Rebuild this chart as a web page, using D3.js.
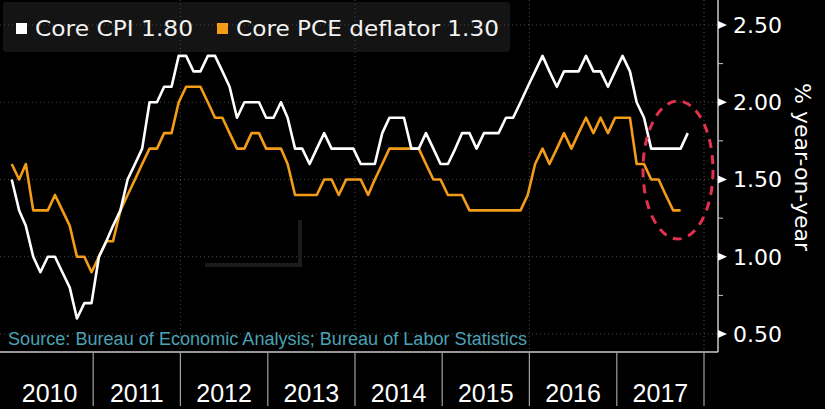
<!DOCTYPE html>
<html>
<head>
<meta charset="utf-8">
<script src="https://cdn.jsdelivr.net/npm/d3@7"></script>
<style>
  html, body { margin: 0; padding: 0; background: #000; }
  svg { display: block; }
</style>
</head>
<body>
<svg id="chart"></svg>
<script>
const width = 825
const height = 409

// monthly y/y %, starting Jan 2010
const coreCPI = [
  1.5, 1.3, 1.2, 1.0, 0.9, 1.0, 1.0, 0.9, 0.8, 0.6, 0.7, 0.7,
  1.0, 1.1, 1.2, 1.3, 1.5, 1.6, 1.7, 2.0, 2.0, 2.1, 2.1, 2.3,
  2.3, 2.2, 2.2, 2.3, 2.3, 2.2, 2.1, 1.9, 2.0, 2.0, 2.0, 1.9,
  1.9, 2.0, 1.9, 1.7, 1.7, 1.6, 1.7, 1.8, 1.7, 1.7, 1.7, 1.7,
  1.6, 1.6, 1.6, 1.8, 1.9, 1.9, 1.9, 1.7, 1.7, 1.8, 1.7, 1.6,
  1.6, 1.7, 1.8, 1.8, 1.7, 1.8, 1.8, 1.8, 1.9, 1.9, 2.0, 2.1,
  2.2, 2.3, 2.2, 2.1, 2.2, 2.2, 2.2, 2.3, 2.2, 2.2, 2.1, 2.2,
  2.3, 2.2, 2.0, 1.9, 1.7, 1.7, 1.7, 1.7, 1.7, 1.8
]
const corePCE = [
  1.6, 1.5, 1.6, 1.3, 1.3, 1.3, 1.4, 1.3, 1.2, 1.0, 1.0, 0.9,
  1.0, 1.1, 1.1, 1.3, 1.4, 1.5, 1.6, 1.7, 1.7, 1.8, 1.8, 2.0,
  2.1, 2.1, 2.1, 2.0, 1.9, 1.9, 1.8, 1.7, 1.7, 1.8, 1.8, 1.7,
  1.7, 1.7, 1.6, 1.4, 1.4, 1.4, 1.4, 1.5, 1.5, 1.4, 1.5, 1.5,
  1.5, 1.4, 1.5, 1.6, 1.7, 1.7, 1.7, 1.7, 1.7, 1.6, 1.5, 1.5,
  1.4, 1.4, 1.4, 1.3, 1.3, 1.3, 1.3, 1.3, 1.3, 1.3, 1.3, 1.4,
  1.6, 1.7, 1.6, 1.7, 1.8, 1.7, 1.8, 1.9, 1.8, 1.9, 1.8, 1.9,
  1.9, 1.9, 1.6, 1.6, 1.5, 1.5, 1.4, 1.3, 1.3
]
const years = [2010, 2011, 2012, 2013, 2014, 2015, 2016, 2017]
const yTicks = [0.5, 1.0, 1.5, 2.0, 2.5]
const yMinorTicks = [0.75, 1.25, 1.75, 2.25]
const gridYears = [2012, 2014, 2016, 2018]
const legendItems = [
  { label: "Core CPI 1.80", color: "#ffffff" },
  { label: "Core PCE deflator 1.30", color: "#f39c17" }
]

const plotRight = 718
const plotBottom = 352

const svg = d3.select("#chart")
  .attr("width", width)
  .attr("height", height)

svg.append("rect")
  .attr("width", width)
  .attr("height", height)
  .attr("fill", "#000")

const x = d3.scaleTime()
  .domain([new Date(2010, 0, 1), new Date(2018, 0, 1)])
  .range([6, 704])

const y = d3.scaleLinear()
  .domain([0.5, 2.5])
  .range([334, 25])

const monthDate = i => new Date(2010, i, 25)

// legend box
svg.append("rect")
  .attr("x", 3).attr("y", 2)
  .attr("width", 507).attr("height", 50)
  .attr("rx", 3)
  .attr("fill", "#141414")

// gridlines
svg.append("g")
  .selectAll("line")
  .data(yTicks)
  .join("line")
  .attr("x1", 0).attr("x2", plotRight)
  .attr("y1", d => y(d)).attr("y2", d => y(d))
  .attr("stroke", "#4a4a4a")
  .attr("stroke-width", 1)
  .attr("stroke-dasharray", "1,3")

svg.append("g")
  .selectAll("line")
  .data(gridYears)
  .join("line")
  .attr("x1", d => x(new Date(d, 0, 1))).attr("x2", d => x(new Date(d, 0, 1)))
  .attr("y1", 0).attr("y2", plotBottom)
  .attr("stroke", "#4a4a4a")
  .attr("stroke-width", 1)
  .attr("stroke-dasharray", "1,3")

// faint artifact in the plot
svg.append("path")
  .attr("d", "M205,265 L300,265 L300,220")
  .attr("fill", "none")
  .attr("stroke", "#1b1b1b")
  .attr("stroke-width", 4)

// lines
const line = d3.line()
  .x((d, i) => x(monthDate(i)))
  .y(d => y(d))

svg.append("path")
  .datum(corePCE)
  .attr("d", line)
  .attr("fill", "none")
  .attr("stroke", legendItems[1].color)
  .attr("stroke-width", 2.6)
  .attr("stroke-linejoin", "round")

svg.append("path")
  .datum(coreCPI)
  .attr("d", line)
  .attr("fill", "none")
  .attr("stroke", legendItems[0].color)
  .attr("stroke-width", 2.6)
  .attr("stroke-linejoin", "round")

// highlight ellipse
svg.append("ellipse")
  .attr("cx", 678).attr("cy", 170)
  .attr("rx", 35).attr("ry", 69)
  .attr("fill", "none")
  .attr("stroke", "#e3304f")
  .attr("stroke-width", 3)
  .attr("stroke-dasharray", "9,7")

// source note
svg.append("text")
  .attr("x", 8).attr("y", 345)
  .attr("font-family", "Liberation Sans, Arial, sans-serif")
  .attr("font-size", 18)
  .attr("textLength", 519)
  .attr("lengthAdjust", "spacingAndGlyphs")
  .attr("fill", "#4aa2b4")
  .text("Source: Bureau of Economic Analysis; Bureau of Labor Statistics")

// right axis
svg.append("line")
  .attr("x1", plotRight).attr("x2", plotRight)
  .attr("y1", 0).attr("y2", plotBottom)
  .attr("stroke", "#c8c8c8").attr("stroke-width", 1.5)

svg.append("line")
  .attr("x1", 0).attr("x2", plotRight)
  .attr("y1", plotBottom).attr("y2", plotBottom)
  .attr("stroke", "#c8c8c8").attr("stroke-width", 1.5)

const yAxis = svg.append("g")
yAxis.selectAll("path")
  .data(yTicks)
  .join("path")
  .attr("d", d => `M${plotRight},${y(d) - 4} L${plotRight + 9},${y(d)} L${plotRight},${y(d) + 4} Z`)
  .attr("fill", "#fff")

yAxis.selectAll("line")
  .data(yMinorTicks)
  .join("line")
  .attr("x1", plotRight).attr("x2", plotRight + 5)
  .attr("y1", d => y(d)).attr("y2", d => y(d))
  .attr("stroke", "#c8c8c8")

yAxis.selectAll("text")
  .data(yTicks)
  .join("text")
  .attr("x", 733)
  .attr("y", d => y(d))
  .attr("dy", "0.36em")
  .attr("font-family", "DejaVu Sans, sans-serif")
  .attr("font-size", 22)
  .attr("fill", "#fff")
  .text(d => d.toFixed(2))

svg.append("text")
  .attr("transform", "translate(795,167) rotate(90)")
  .attr("text-anchor", "middle")
  .attr("font-family", "DejaVu Sans, sans-serif")
  .attr("font-size", 22)
  .attr("fill", "#fff")
  .text("% year-on-year")

// year bands along the bottom
svg.append("g")
  .selectAll("line")
  .data(years.slice(1).concat([2018]))
  .join("line")
  .attr("x1", d => x(new Date(d, 0, 1))).attr("x2", d => x(new Date(d, 0, 1)))
  .attr("y1", plotBottom).attr("y2", 406)
  .attr("stroke", "#a0a0a0").attr("stroke-width", 1.2)

svg.append("g")
  .selectAll("text")
  .data(years)
  .join("text")
  .attr("x", d => (x(new Date(d, 0, 1)) + x(new Date(d + 1, 0, 1))) / 2)
  .attr("y", 402)
  .attr("text-anchor", "middle")
  .attr("font-family", "Liberation Sans, Arial, sans-serif")
  .attr("font-size", 25)
  .attr("fill", "#fff")
  .text(d => d)

// legend
const legend = svg.append("g")
const lx = [16, 217]
const lw = [158, 263]
legend.selectAll("rect")
  .data(legendItems)
  .join("rect")
  .attr("x", (d, i) => lx[i])
  .attr("y", 23)
  .attr("width", 11).attr("height", 11)
  .attr("fill", d => d.color)

legend.selectAll("text")
  .data(legendItems)
  .join("text")
  .attr("x", (d, i) => lx[i] + 19)
  .attr("y", 36)
  .attr("font-family", "DejaVu Sans, sans-serif")
  .attr("font-size", 21)
  .attr("textLength", (d, i) => lw[i])
  .attr("lengthAdjust", "spacingAndGlyphs")
  .attr("fill", "#f2f2f2")
  .text(d => d.label)
</script>
</body>
</html>
